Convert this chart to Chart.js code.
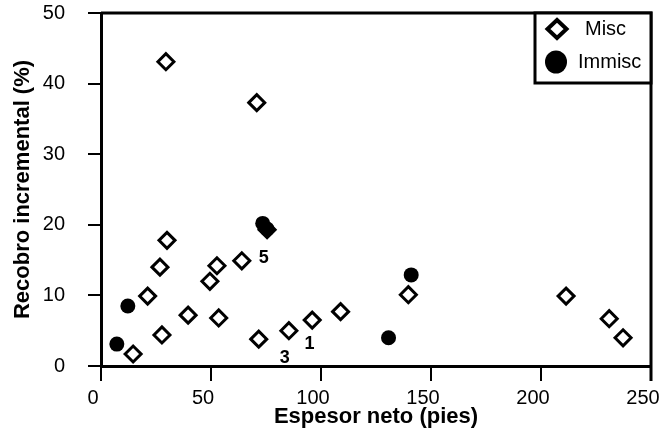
<!DOCTYPE html>
<html>
<head>
<meta charset="utf-8">
<script src="https://cdn.jsdelivr.net/npm/chart.js@4"></script>
<style>
  body { margin: 0; background: #fff; }
  #wrap { width: 662px; height: 432px; }
</style>
</head>
<body>
<div id="wrap"><canvas id="mycanvas"></canvas></div>
<script>
// data
const miscX = [29.5, 70.8, 30, 26.8, 21.2, 52.7, 49.5, 64, 39.6, 53.5, 27.7, 14.6, 71.7, 85.4, 96, 108.9, 139.7, 211.4, 231, 237.3, 75.5];
const miscY = [43.1, 37.3, 17.8, 14.0, 9.9, 14.2, 12.0, 14.9, 7.2, 6.8, 4.4, 1.7, 3.8, 5.0, 6.5, 7.7, 10.1, 9.9, 6.7, 4.0, 19.3];
const immiscX = [12.2, 7.2, 141, 130.7, 73.5, 75.5];
const immiscY = [8.5, 3.1, 12.9, 4.0, 20.2, 19.4];
const noteText = ['5', '3', '1'];
const noteX = [74.0, 83.5, 94.8];
const noteY = [15.3, 1.1, 3.1];
const xTicks = [0, 50, 100, 150, 200, 250];
const yTicks = [0, 10, 20, 30, 40, 50];

const toPts = (xs, ys) => xs.map((x, i) => ({x: x, y: ys[i]}));

// top / right frame lines
const frame = {
  id: 'frame',
  afterDatasetsDraw(chart) {
    const {ctx, chartArea: a} = chart;
    ctx.save();
    ctx.strokeStyle = '#000';
    ctx.lineWidth = 3;
    ctx.beginPath();
    ctx.moveTo(a.left, a.top);
    ctx.lineTo(a.right, a.top);
    ctx.lineTo(a.right, a.bottom + 15);
    ctx.stroke();
    ctx.restore();
  }
};

// numbers written next to some points
const notes = {
  id: 'notes',
  afterDatasetsDraw(chart) {
    const {ctx, scales} = chart;
    ctx.save();
    ctx.fillStyle = '#000';
    ctx.font = 'bold 18px "Liberation Sans", Arial, sans-serif';
    ctx.textAlign = 'center';
    ctx.textBaseline = 'middle';
    for (let i = 0; i < noteText.length; i++) {
      ctx.fillText(noteText[i], scales.x.getPixelForValue(noteX[i]), scales.y.getPixelForValue(noteY[i]));
    }
    ctx.restore();
  }
};

// boxed legend in the top right corner
const boxLegend = {
  id: 'boxLegend',
  afterDraw(chart) {
    const {ctx, chartArea: a} = chart;
    const left = a.right - 116, top = a.top, h = 70;
    ctx.save();
    ctx.fillStyle = '#fff';
    ctx.fillRect(left, top, 116, h);
    ctx.strokeStyle = '#000';
    ctx.lineWidth = 3;
    ctx.strokeRect(left, top, 116, h);
    // diamond
    const dx = left + 22, dy = top + 16;
    ctx.lineWidth = 4;
    ctx.beginPath();
    ctx.moveTo(dx, dy - 9);
    ctx.lineTo(dx + 9.5, dy);
    ctx.lineTo(dx, dy + 9);
    ctx.lineTo(dx - 9.5, dy);
    ctx.closePath();
    ctx.stroke();
    // circle
    ctx.fillStyle = '#000';
    ctx.beginPath();
    ctx.ellipse(left + 21, top + 49, 11, 11.5, 0, 0, Math.PI * 2);
    ctx.fill();
    ctx.font = '20px "Liberation Sans", Arial, sans-serif';
    ctx.textBaseline = 'middle';
    ctx.fillText(chart.data.datasets[1].label, left + 50, dy);
    ctx.fillText(chart.data.datasets[0].label, left + 43, top + 49);
    ctx.restore();
  }
};

const data = {
  datasets: [{
    label: 'Immisc',
    data: toPts(immiscX, immiscY),
    pointStyle: 'circle',
    pointRadius: 7.5,
    pointBackgroundColor: '#000',
    pointBorderColor: '#000',
    pointBorderWidth: 0,
    order: 0
  }, {
    label: 'Misc',
    data: toPts(miscX, miscY),
    pointStyle: 'rectRot',
    pointRadius: 8,
    pointBackgroundColor: '#fff',
    pointBorderColor: '#000',
    pointBorderWidth: 3,
    order: 1
  }]
};

const config = {
  type: 'scatter',
  data,
  options: {
    responsive: true,
    maintainAspectRatio: false,
    animation: false,
    clip: false,
    layout: { padding: { top: 13, right: 10, left: 0, bottom: 0 } },
    plugins: { legend: { display: false }, tooltip: { enabled: false } },
    scales: {
      x: {
        type: 'linear',
        min: 0,
        max: 250,
        afterBuildTicks: s => { s.ticks = xTicks.map(v => ({value: v})); },
        afterFit: s => { s.height = 66; s.paddingLeft = 0; s.paddingRight = 0; },
        grid: { drawOnChartArea: false, drawTicks: true, tickLength: 15, color: '#000', lineWidth: 2 },
        border: { color: '#000', width: 3 },
        ticks: {
          color: '#000',
          padding: 5,
          labelOffset: -8,
          font: { family: '"Liberation Sans", Arial, sans-serif', size: 20 }
        },
        title: {
          display: true,
          text: 'Espesor neto (pies)',
          color: '#000',
          padding: { top: 0, bottom: 2 },
          font: { family: '"Liberation Sans", Arial, sans-serif', size: 22, weight: 'bold' }
        }
      },
      y: {
        min: 0,
        max: 50,
        afterBuildTicks: s => { s.ticks = yTicks.map(v => ({value: v})); },
        afterFit: s => { s.width = 101; s.paddingTop = 0; s.paddingBottom = 0; },
        grid: { drawOnChartArea: false, drawTicks: true, tickLength: 13, color: '#000', lineWidth: 2 },
        border: { color: '#000', width: 3 },
        ticks: {
          color: '#000',
          padding: 23,
          font: { family: '"Liberation Sans", Arial, sans-serif', size: 20 }
        },
        title: {
          display: true,
          text: 'Recobro incremental (%)',
          color: '#000',
          padding: { top: 10, bottom: 0 },
          font: { family: '"Liberation Sans", Arial, sans-serif', size: 22, weight: 'bold' }
        }
      }
    }
  },
  plugins: [frame, notes, boxLegend]
};

const myChart = new Chart(document.getElementById('mycanvas'), config);
</script>
</body>
</html>
